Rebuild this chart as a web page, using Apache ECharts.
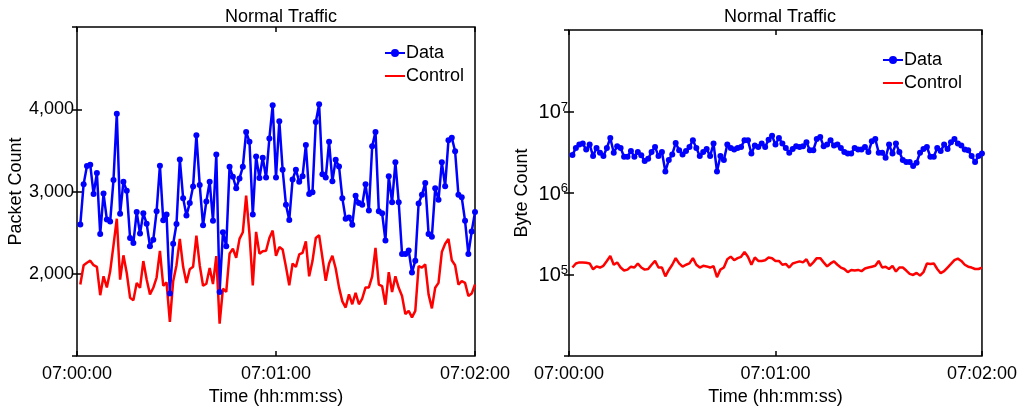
<!DOCTYPE html>
<html>
<head>
<meta charset="utf-8">
<script src="https://cdn.jsdelivr.net/npm/echarts@6/dist/echarts.min.js"></script>
<style>
  html, body { margin: 0; padding: 0; background: #fff; }
  #chart { width: 1020px; height: 411px; }
</style>
</head>
<body>
<div id="chart"></div>
<script>
// tick labels of the time axis (seconds 0, 60, 120)
var timeLabels = ['07:00:00', '07:01:00', '07:02:00'];
var packetTicks = [2000, 3000, 4000];

// packet counts, one sample per second (t = 1..120 s)
var packetData = [
  2600, 3090, 3310, 3325, 2970, 3225, 2485, 2975, 2660, 2635,
  3140, 3945, 2730, 3120, 3010, 2435, 2375, 2750, 2490, 2735,
  2610, 2335, 2415, 2760, 3315, 2650, 2720, 1760, 2365, 2605,
  3390, 2920, 2710, 2860, 3060, 3685, 3080, 2590, 2880, 3120,
  2645, 3450, 1780, 2505, 2335, 3300, 3180, 3040, 3160, 3300,
  3725, 3605, 2720, 3425, 3165, 3410, 3170, 3645, 4050, 3170,
  3855, 3265, 2840, 2655, 3145, 3265, 3120, 3185, 3565, 2970,
  2990, 3845, 4060, 3210, 3170, 3605, 3125, 3385, 3305, 2920,
  2670, 2685, 2595, 2950, 2860, 2840, 3090, 2770, 3550, 3725,
  2760, 2735, 2405, 3185, 2870, 3355, 2870, 2240, 2240, 2285,
  2015, 2160, 2855, 2960, 3105, 2485, 2450, 3040, 2900, 3355,
  3065, 3625, 3655, 3490, 2960, 2930, 2645, 2240, 2515, 2750
];
var packetControl = [
  1870, 2105, 2135, 2160, 2105, 2085, 1740, 1970, 1835, 2030,
  2345, 2670, 1930, 2225, 2010, 1710, 1680, 1890, 1830, 2155,
  1930, 1750, 1830, 1955, 2280, 1855, 1895, 1415, 1910, 2105,
  2425, 2085, 1890, 2055, 2085, 2465, 2105, 1855, 1880, 2070,
  1875, 2215, 1395, 1820, 1780, 2245, 2305, 2195, 2425, 2505,
  2950, 2485, 1860, 2510, 2245, 2275, 2280, 2435, 2525, 2220,
  2325, 2295, 2085, 1860, 2125, 2085, 2235, 2255, 2395, 1970,
  2155, 2435, 2470, 2195, 1915, 2125, 2220, 2065, 1835, 1665,
  1590, 1750, 1630, 1770, 1630, 1700, 1835, 1835, 1970, 2315,
  1870, 1850, 1625, 2020, 1780, 1970, 1830, 1730, 1510, 1550,
  1470, 1550, 2095, 2075, 2115, 1750, 1580, 1830, 1890, 2265,
  2365, 2425, 2165, 2105, 1870, 1910, 1890, 1730, 1760, 1870
];

// byte counts, one sample per second (t = 1..120 s)
var byteData = [
  2920000, 3580000, 3930000, 4040000, 3420000, 3930000, 2840000, 3580000, 3120000, 2840000,
  3580000, 4730000, 3120000, 3750000, 3580000, 2790000, 2790000, 3270000, 2790000, 3180000,
  2900000, 2480000, 2640000, 3180000, 3680000, 2840000, 3180000, 1840000, 2550000, 2980000,
  4110000, 3360000, 2980000, 3270000, 3680000, 4430000, 3580000, 2840000, 3180000, 3480000,
  2840000, 4040000, 1840000, 2840000, 2550000, 3930000, 3580000, 3420000, 3580000, 3680000,
  4430000, 4430000, 3060000, 3820000, 3680000, 4040000, 3680000, 4520000, 5050000, 3930000,
  4730000, 4040000, 3580000, 3120000, 3480000, 3750000, 3680000, 3750000, 4190000, 3360000,
  3360000, 4600000, 4860000, 3750000, 3930000, 4430000, 3820000, 3930000, 3580000, 3180000,
  3060000, 3060000, 3580000, 3420000, 3420000, 3680000, 3180000, 4310000, 4600000, 3120000,
  3120000, 2710000, 3930000, 3060000, 4040000, 3180000, 2550000, 2410000, 2410000, 2150000,
  2360000, 3120000, 3480000, 3680000, 2790000, 2790000, 3580000, 3270000, 3930000, 3480000,
  4190000, 4600000, 4040000, 3820000, 3420000, 3360000, 2840000, 2410000, 2840000, 3060000
];
var byteControl = [
  122000, 137000, 141000, 141000, 140000, 137000, 116000, 126000, 122000, 128000,
  147000, 169000, 132000, 141000, 122000, 112000, 115000, 125000, 122000, 137000,
  122000, 115000, 117000, 132000, 147000, 122000, 122000, 95000, 114000, 132000,
  159000, 137000, 125000, 132000, 137000, 159000, 132000, 122000, 128000, 126000,
  122000, 127000, 93000, 115000, 122000, 154000, 166000, 150000, 159000, 165000,
  189000, 165000, 132000, 162000, 147000, 147000, 150000, 162000, 159000, 147000,
  147000, 132000, 135000, 122000, 137000, 141000, 145000, 141000, 154000, 128000,
  141000, 159000, 159000, 141000, 126000, 137000, 145000, 132000, 122000, 117000,
  107000, 114000, 112000, 114000, 110000, 119000, 122000, 125000, 128000, 147000,
  122000, 125000, 117000, 128000, 109000, 122000, 122000, 112000, 102000, 99000,
  105000, 97000, 107000, 137000, 135000, 137000, 117000, 104000, 110000, 122000,
  135000, 150000, 157000, 147000, 132000, 125000, 122000, 117000, 117000, 122000
];

function pairs(arr) {
    return arr.map(function (v, i) { return [i + 1, v]; });
}

var FONT = 'Liberation Sans, Arial, sans-serif';
var supDigits = {5: '5', 6: '6', 7: '7'};

var chart = echarts.init(document.getElementById('chart'));

function timeAxis(grid, pos, show) {
    return {
        type: 'value', gridIndex: grid, position: pos,
        min: 0, max: 120, interval: 60,
        name: show ? 'Time (hh:mm:ss)' : '', nameLocation: 'middle', nameGap: 26,
        nameTextStyle: {fontSize: 18, color: '#000', fontFamily: FONT},
        axisLine: {show: false},
        axisTick: {show: true, inside: true, length: 5, lineStyle: {color: '#000', width: 1.5}},
        axisLabel: {
            show: show, fontSize: 18, color: '#000', fontFamily: FONT, margin: 9,
            formatter: function (v) { return timeLabels[Math.round(v / 60)]; }
        },
        splitLine: {show: false}
    };
}

function legendAt(left, top) {
    return {
        left: left, top: top, orient: 'vertical', itemGap: 5, itemWidth: 20, itemHeight: 10,
        data: ['Data', {name: 'Control', itemStyle: {opacity: 0}}],
        textStyle: {fontSize: 18, color: '#000', fontFamily: FONT, padding: [0, 0, 0, -4]}
    };
}

var option = {
    animation: false,
    backgroundColor: '#fff',
    title: [
        {text: 'Normal Traffic', left: 276, top: 3, textAlign: 'center',
         textStyle: {fontSize: 18, fontWeight: 'normal', color: '#000', fontFamily: FONT}},
        {text: 'Normal Traffic', left: 775, top: 3, textAlign: 'center',
         textStyle: {fontSize: 18, fontWeight: 'normal', color: '#000', fontFamily: FONT}}
    ],
    legend: [legendAt(379, 39), legendAt(877, 46)],
    grid: [
        {left: 77, right: 545, top: 27, bottom: 49, show: true, borderColor: '#000', borderWidth: 1.5},
        {left: 569, right: 38, top: 30, bottom: 49, show: true, borderColor: '#000', borderWidth: 1.5}
    ],
    xAxis: [
        timeAxis(0, 'bottom', true),
        timeAxis(0, 'top', false),
        timeAxis(1, 'bottom', true),
        timeAxis(1, 'top', false)
    ],
    yAxis: [
        {
            type: 'value', gridIndex: 0, position: 'left',
            min: 1000, max: 5000, interval: 1000,
            name: 'Packet Count', nameLocation: 'middle', nameGap: 46,
            nameTextStyle: {fontSize: 18, color: '#000', fontFamily: FONT},
            axisLine: {show: false},
            axisTick: {show: true, inside: true, length: 5, lineStyle: {color: '#000', width: 1.5}},
            axisLabel: {
                fontSize: 18, color: '#000', fontFamily: FONT, margin: 3,
                showMinLabel: false, showMaxLabel: false,
                formatter: function (v) {
                    return packetTicks.indexOf(v) >= 0 ? v.toLocaleString('en-US') : '';
                }
            },
            splitLine: {show: false}
        },
        {
            type: 'value', gridIndex: 0, position: 'right',
            min: 1000, max: 5000, interval: 1000,
            axisLine: {show: false},
            axisTick: {show: true, inside: true, length: 5, lineStyle: {color: '#000', width: 1.5}},
            axisLabel: {show: false},
            splitLine: {show: false}
        },
        {
            type: 'log', logBase: 10, gridIndex: 1, position: 'left',
            min: 10000, max: 100000000,
            name: 'Byte Count', nameLocation: 'middle', nameGap: 38,
            nameTextStyle: {fontSize: 18, color: '#000', fontFamily: FONT},
            axisLine: {show: false},
            axisTick: {show: true, inside: true, length: 5, lineStyle: {color: '#000', width: 1.5}},
            axisLabel: {
                color: '#000', fontFamily: FONT, margin: 1,
                showMinLabel: false, showMaxLabel: false,
                formatter: function (v) {
                    var e = Math.round(Math.log10(v));
                    return supDigits[e] ? '{b|10}{s|' + supDigits[e] + '}' : '';
                },
                rich: {
                    b: {fontSize: 20, color: '#000', fontFamily: FONT, lineHeight: 22, verticalAlign: 'bottom'},
                    s: {fontSize: 13, color: '#000', fontFamily: FONT, lineHeight: 22, verticalAlign: 'top', padding: [0, 0, 8, 0]}
                }
            },
            splitLine: {show: false}
        },
        {
            type: 'log', logBase: 10, gridIndex: 1, position: 'right',
            min: 10000, max: 100000000,
            axisLine: {show: false},
            axisTick: {show: true, inside: true, length: 5, lineStyle: {color: '#000', width: 1.5}},
            axisLabel: {show: false},
            splitLine: {show: false}
        }
    ],
    series: [
        {name: 'Data', type: 'line', xAxisIndex: 0, yAxisIndex: 0, data: pairs(packetData),
         symbol: 'circle', symbolSize: 6, showAllSymbol: true,
         itemStyle: {color: '#0000ff'}, lineStyle: {color: '#0000ff', width: 2.5}},
        {name: 'Control', type: 'line', xAxisIndex: 0, yAxisIndex: 0, data: pairs(packetControl),
         symbol: 'none', itemStyle: {color: '#ff0000'}, lineStyle: {color: '#ff0000', width: 2.5}},
        {name: 'Data', type: 'line', xAxisIndex: 2, yAxisIndex: 2, data: pairs(byteData),
         symbol: 'circle', symbolSize: 6, showAllSymbol: true,
         itemStyle: {color: '#0000ff'}, lineStyle: {color: '#0000ff', width: 2.5}},
        {name: 'Control', type: 'line', xAxisIndex: 2, yAxisIndex: 2, data: pairs(byteControl),
         symbol: 'none', itemStyle: {color: '#ff0000'}, lineStyle: {color: '#ff0000', width: 2.5}}
    ]
};

chart.setOption(option);
</script>
</body>
</html>
